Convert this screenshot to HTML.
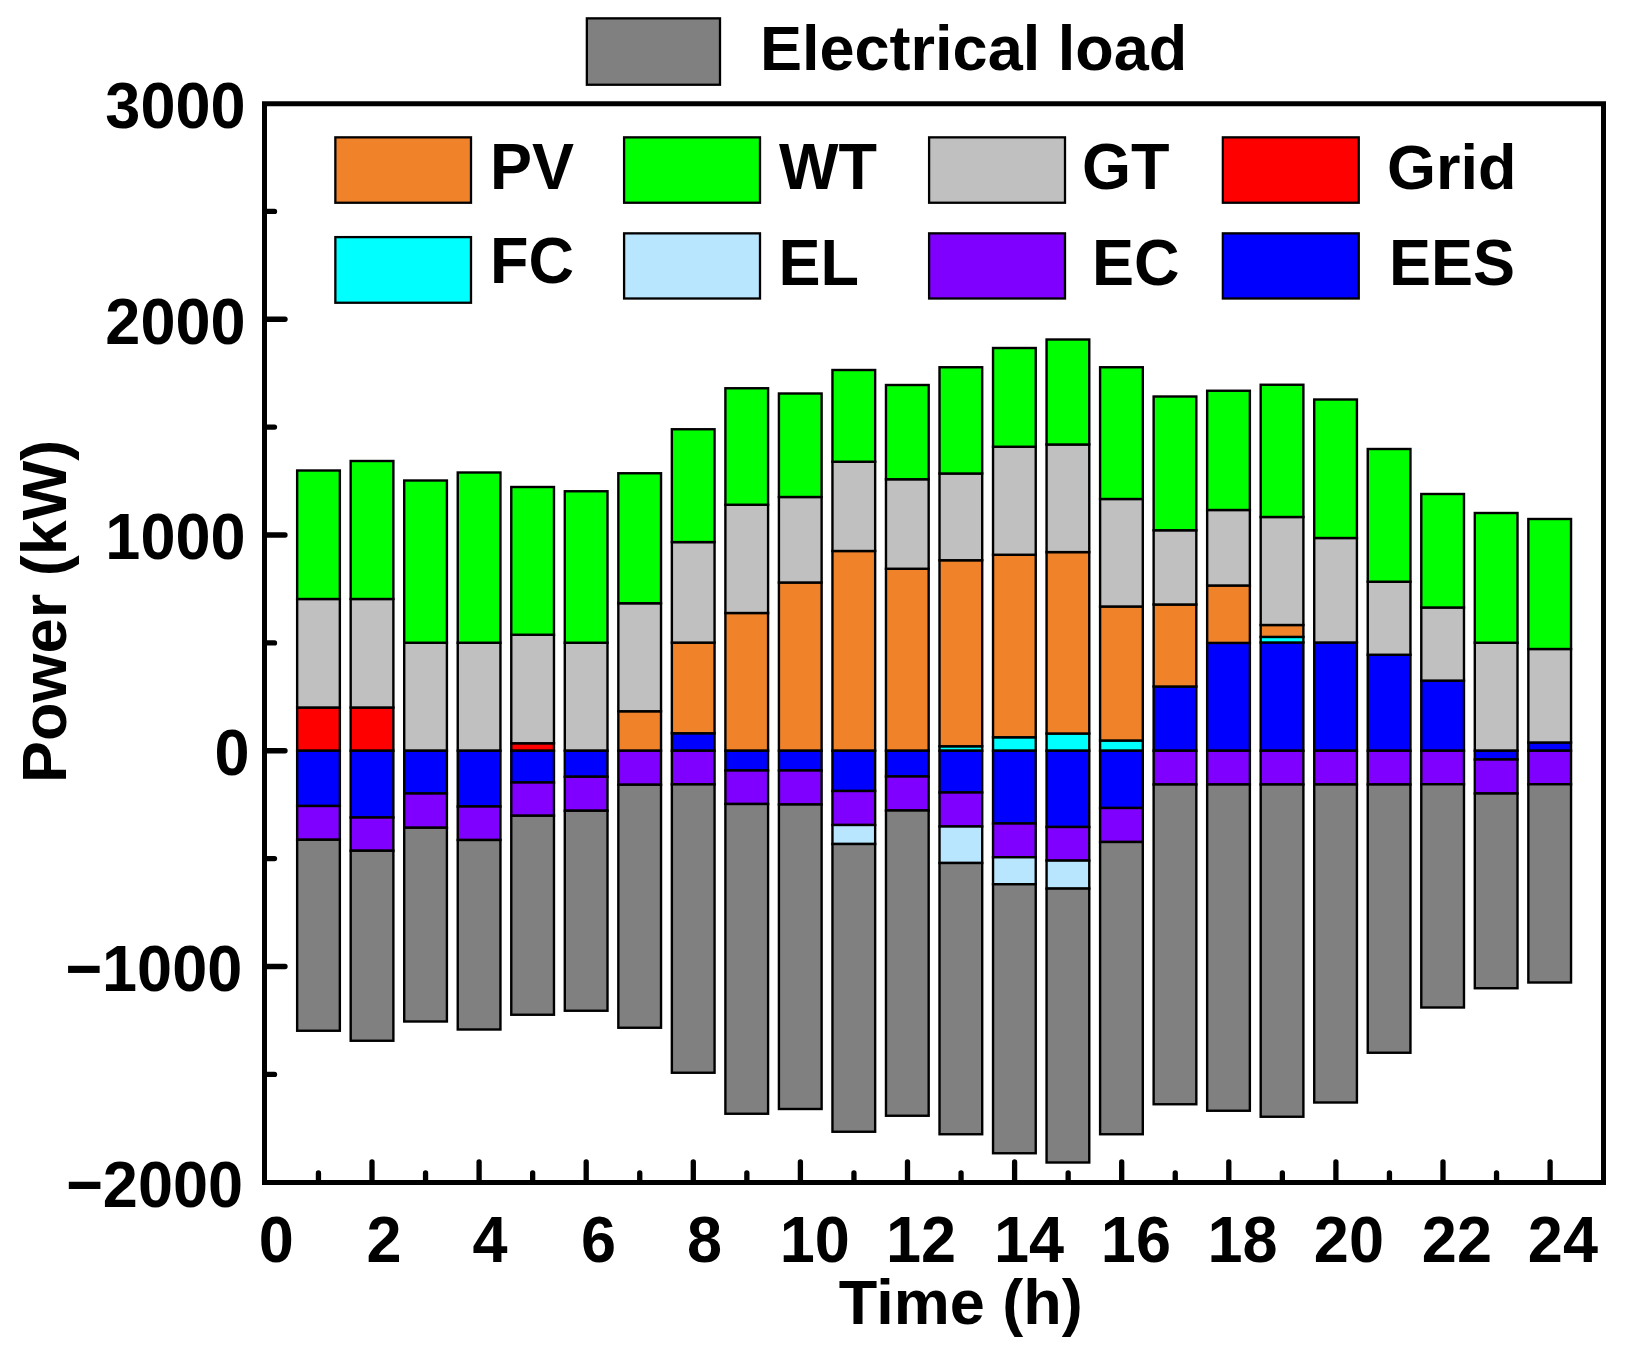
<!DOCTYPE html>
<html lang="en">
<head>
<meta charset="utf-8">
<title>Electrical power balance</title>
<style>
html,body{margin:0;padding:0;background:#fff;}
body{width:1628px;height:1353px;overflow:hidden;}
svg{display:block;}
svg text{font-family:"Liberation Sans",Arial,Helvetica,sans-serif;font-weight:bold;font-size:63px;fill:#000;}
</style>
</head>
<body>
<svg width="1628" height="1353" viewBox="0 0 1628 1353">
<rect x="0" y="0" width="1628" height="1353" fill="#fff"/>
<g stroke="#000" stroke-width="2.4" stroke-linejoin="miter">
<rect x="297.15" y="707.50" width="42.70" height="43.25" fill="#FF0000"/>
<rect x="297.15" y="599.00" width="42.70" height="108.50" fill="#C0C0C0"/>
<rect x="297.15" y="470.50" width="42.70" height="128.50" fill="#00FF00"/>
<rect x="297.15" y="750.75" width="42.70" height="55.25" fill="#0000FF"/>
<rect x="297.15" y="806.00" width="42.70" height="33.75" fill="#8000FF"/>
<rect x="297.15" y="839.75" width="42.70" height="191.00" fill="#808080"/>
<rect x="350.68" y="707.50" width="42.70" height="43.25" fill="#FF0000"/>
<rect x="350.68" y="599.00" width="42.70" height="108.50" fill="#C0C0C0"/>
<rect x="350.68" y="461.00" width="42.70" height="138.00" fill="#00FF00"/>
<rect x="350.68" y="750.75" width="42.70" height="66.75" fill="#0000FF"/>
<rect x="350.68" y="817.50" width="42.70" height="33.25" fill="#8000FF"/>
<rect x="350.68" y="850.75" width="42.70" height="190.00" fill="#808080"/>
<rect x="404.21" y="642.75" width="42.70" height="108.00" fill="#C0C0C0"/>
<rect x="404.21" y="480.50" width="42.70" height="162.25" fill="#00FF00"/>
<rect x="404.21" y="750.75" width="42.70" height="42.75" fill="#0000FF"/>
<rect x="404.21" y="793.50" width="42.70" height="34.25" fill="#8000FF"/>
<rect x="404.21" y="827.75" width="42.70" height="193.75" fill="#808080"/>
<rect x="457.74" y="642.75" width="42.70" height="108.00" fill="#C0C0C0"/>
<rect x="457.74" y="472.50" width="42.70" height="170.25" fill="#00FF00"/>
<rect x="457.74" y="750.75" width="42.70" height="55.75" fill="#0000FF"/>
<rect x="457.74" y="806.50" width="42.70" height="33.50" fill="#8000FF"/>
<rect x="457.74" y="840.00" width="42.70" height="189.50" fill="#808080"/>
<rect x="511.27" y="743.25" width="42.70" height="7.50" fill="#FF0000"/>
<rect x="511.27" y="634.75" width="42.70" height="108.50" fill="#C0C0C0"/>
<rect x="511.27" y="487.00" width="42.70" height="147.75" fill="#00FF00"/>
<rect x="511.27" y="750.75" width="42.70" height="31.75" fill="#0000FF"/>
<rect x="511.27" y="782.50" width="42.70" height="33.25" fill="#8000FF"/>
<rect x="511.27" y="815.75" width="42.70" height="199.00" fill="#808080"/>
<rect x="564.80" y="642.75" width="42.70" height="108.00" fill="#C0C0C0"/>
<rect x="564.80" y="491.25" width="42.70" height="151.50" fill="#00FF00"/>
<rect x="564.80" y="750.75" width="42.70" height="26.00" fill="#0000FF"/>
<rect x="564.80" y="776.75" width="42.70" height="34.00" fill="#8000FF"/>
<rect x="564.80" y="810.75" width="42.70" height="200.00" fill="#808080"/>
<rect x="618.33" y="711.25" width="42.70" height="39.50" fill="#F0832A"/>
<rect x="618.33" y="603.25" width="42.70" height="108.00" fill="#C0C0C0"/>
<rect x="618.33" y="473.25" width="42.70" height="130.00" fill="#00FF00"/>
<rect x="618.33" y="750.75" width="42.70" height="34.00" fill="#8000FF"/>
<rect x="618.33" y="784.75" width="42.70" height="243.00" fill="#808080"/>
<rect x="671.86" y="733.25" width="42.70" height="17.50" fill="#0000FF"/>
<rect x="671.86" y="642.60" width="42.70" height="90.65" fill="#F0832A"/>
<rect x="671.86" y="542.10" width="42.70" height="100.50" fill="#C0C0C0"/>
<rect x="671.86" y="429.25" width="42.70" height="112.85" fill="#00FF00"/>
<rect x="671.86" y="750.75" width="42.70" height="33.65" fill="#8000FF"/>
<rect x="671.86" y="784.40" width="42.70" height="288.35" fill="#808080"/>
<rect x="725.39" y="613.00" width="42.70" height="137.75" fill="#F0832A"/>
<rect x="725.39" y="504.75" width="42.70" height="108.25" fill="#C0C0C0"/>
<rect x="725.39" y="388.25" width="42.70" height="116.50" fill="#00FF00"/>
<rect x="725.39" y="750.75" width="42.70" height="19.75" fill="#0000FF"/>
<rect x="725.39" y="770.50" width="42.70" height="33.50" fill="#8000FF"/>
<rect x="725.39" y="804.00" width="42.70" height="309.75" fill="#808080"/>
<rect x="778.92" y="582.50" width="42.70" height="168.25" fill="#F0832A"/>
<rect x="778.92" y="497.00" width="42.70" height="85.50" fill="#C0C0C0"/>
<rect x="778.92" y="393.50" width="42.70" height="103.50" fill="#00FF00"/>
<rect x="778.92" y="750.75" width="42.70" height="19.75" fill="#0000FF"/>
<rect x="778.92" y="770.50" width="42.70" height="34.00" fill="#8000FF"/>
<rect x="778.92" y="804.50" width="42.70" height="304.50" fill="#808080"/>
<rect x="832.45" y="551.00" width="42.70" height="199.75" fill="#F0832A"/>
<rect x="832.45" y="461.75" width="42.70" height="89.25" fill="#C0C0C0"/>
<rect x="832.45" y="370.00" width="42.70" height="91.75" fill="#00FF00"/>
<rect x="832.45" y="750.75" width="42.70" height="40.25" fill="#0000FF"/>
<rect x="832.45" y="791.00" width="42.70" height="34.00" fill="#8000FF"/>
<rect x="832.45" y="825.00" width="42.70" height="19.00" fill="#B9E6FF"/>
<rect x="832.45" y="844.00" width="42.70" height="287.75" fill="#808080"/>
<rect x="885.98" y="568.75" width="42.70" height="182.00" fill="#F0832A"/>
<rect x="885.98" y="479.25" width="42.70" height="89.50" fill="#C0C0C0"/>
<rect x="885.98" y="385.00" width="42.70" height="94.25" fill="#00FF00"/>
<rect x="885.98" y="750.75" width="42.70" height="25.75" fill="#0000FF"/>
<rect x="885.98" y="776.50" width="42.70" height="34.00" fill="#8000FF"/>
<rect x="885.98" y="810.50" width="42.70" height="305.25" fill="#808080"/>
<rect x="939.51" y="746.25" width="42.70" height="4.50" fill="#00FFFF"/>
<rect x="939.51" y="560.25" width="42.70" height="186.00" fill="#F0832A"/>
<rect x="939.51" y="473.50" width="42.70" height="86.75" fill="#C0C0C0"/>
<rect x="939.51" y="367.25" width="42.70" height="106.25" fill="#00FF00"/>
<rect x="939.51" y="750.75" width="42.70" height="41.75" fill="#0000FF"/>
<rect x="939.51" y="792.50" width="42.70" height="34.00" fill="#8000FF"/>
<rect x="939.51" y="826.50" width="42.70" height="36.50" fill="#B9E6FF"/>
<rect x="939.51" y="863.00" width="42.70" height="271.25" fill="#808080"/>
<rect x="993.04" y="737.25" width="42.70" height="13.50" fill="#00FFFF"/>
<rect x="993.04" y="554.75" width="42.70" height="182.50" fill="#F0832A"/>
<rect x="993.04" y="446.75" width="42.70" height="108.00" fill="#C0C0C0"/>
<rect x="993.04" y="348.00" width="42.70" height="98.75" fill="#00FF00"/>
<rect x="993.04" y="750.75" width="42.70" height="72.75" fill="#0000FF"/>
<rect x="993.04" y="823.50" width="42.70" height="33.75" fill="#8000FF"/>
<rect x="993.04" y="857.25" width="42.70" height="27.00" fill="#B9E6FF"/>
<rect x="993.04" y="884.25" width="42.70" height="269.00" fill="#808080"/>
<rect x="1046.57" y="733.50" width="42.70" height="17.25" fill="#00FFFF"/>
<rect x="1046.57" y="552.10" width="42.70" height="181.40" fill="#F0832A"/>
<rect x="1046.57" y="444.50" width="42.70" height="107.60" fill="#C0C0C0"/>
<rect x="1046.57" y="339.50" width="42.70" height="105.00" fill="#00FF00"/>
<rect x="1046.57" y="750.75" width="42.70" height="76.25" fill="#0000FF"/>
<rect x="1046.57" y="827.00" width="42.70" height="33.60" fill="#8000FF"/>
<rect x="1046.57" y="860.60" width="42.70" height="28.00" fill="#B9E6FF"/>
<rect x="1046.57" y="888.60" width="42.70" height="273.90" fill="#808080"/>
<rect x="1100.10" y="740.50" width="42.70" height="10.25" fill="#00FFFF"/>
<rect x="1100.10" y="606.50" width="42.70" height="134.00" fill="#F0832A"/>
<rect x="1100.10" y="499.00" width="42.70" height="107.50" fill="#C0C0C0"/>
<rect x="1100.10" y="367.25" width="42.70" height="131.75" fill="#00FF00"/>
<rect x="1100.10" y="750.75" width="42.70" height="57.25" fill="#0000FF"/>
<rect x="1100.10" y="808.00" width="42.70" height="34.00" fill="#8000FF"/>
<rect x="1100.10" y="842.00" width="42.70" height="292.25" fill="#808080"/>
<rect x="1153.63" y="686.50" width="42.70" height="64.25" fill="#0000FF"/>
<rect x="1153.63" y="604.50" width="42.70" height="82.00" fill="#F0832A"/>
<rect x="1153.63" y="530.25" width="42.70" height="74.25" fill="#C0C0C0"/>
<rect x="1153.63" y="396.50" width="42.70" height="133.75" fill="#00FF00"/>
<rect x="1153.63" y="750.75" width="42.70" height="33.75" fill="#8000FF"/>
<rect x="1153.63" y="784.50" width="42.70" height="319.75" fill="#808080"/>
<rect x="1207.16" y="642.90" width="42.70" height="107.85" fill="#0000FF"/>
<rect x="1207.16" y="585.50" width="42.70" height="57.40" fill="#F0832A"/>
<rect x="1207.16" y="510.00" width="42.70" height="75.50" fill="#C0C0C0"/>
<rect x="1207.16" y="390.75" width="42.70" height="119.25" fill="#00FF00"/>
<rect x="1207.16" y="750.75" width="42.70" height="33.75" fill="#8000FF"/>
<rect x="1207.16" y="784.50" width="42.70" height="326.25" fill="#808080"/>
<rect x="1260.69" y="642.50" width="42.70" height="108.25" fill="#0000FF"/>
<rect x="1260.69" y="636.90" width="42.70" height="5.60" fill="#00FFFF"/>
<rect x="1260.69" y="625.00" width="42.70" height="11.90" fill="#F0832A"/>
<rect x="1260.69" y="517.00" width="42.70" height="108.00" fill="#C0C0C0"/>
<rect x="1260.69" y="384.75" width="42.70" height="132.25" fill="#00FF00"/>
<rect x="1260.69" y="750.75" width="42.70" height="33.75" fill="#8000FF"/>
<rect x="1260.69" y="784.50" width="42.70" height="332.25" fill="#808080"/>
<rect x="1314.22" y="642.50" width="42.70" height="108.25" fill="#0000FF"/>
<rect x="1314.22" y="538.00" width="42.70" height="104.50" fill="#C0C0C0"/>
<rect x="1314.22" y="399.50" width="42.70" height="138.50" fill="#00FF00"/>
<rect x="1314.22" y="750.75" width="42.70" height="33.75" fill="#8000FF"/>
<rect x="1314.22" y="784.50" width="42.70" height="318.00" fill="#808080"/>
<rect x="1367.75" y="654.75" width="42.70" height="96.00" fill="#0000FF"/>
<rect x="1367.75" y="581.75" width="42.70" height="73.00" fill="#C0C0C0"/>
<rect x="1367.75" y="449.00" width="42.70" height="132.75" fill="#00FF00"/>
<rect x="1367.75" y="750.75" width="42.70" height="33.75" fill="#8000FF"/>
<rect x="1367.75" y="784.50" width="42.70" height="268.25" fill="#808080"/>
<rect x="1421.28" y="680.60" width="42.70" height="70.15" fill="#0000FF"/>
<rect x="1421.28" y="607.50" width="42.70" height="73.10" fill="#C0C0C0"/>
<rect x="1421.28" y="494.00" width="42.70" height="113.50" fill="#00FF00"/>
<rect x="1421.28" y="750.75" width="42.70" height="33.50" fill="#8000FF"/>
<rect x="1421.28" y="784.25" width="42.70" height="223.25" fill="#808080"/>
<rect x="1474.81" y="642.75" width="42.70" height="108.00" fill="#C0C0C0"/>
<rect x="1474.81" y="513.00" width="42.70" height="129.75" fill="#00FF00"/>
<rect x="1474.81" y="750.75" width="42.70" height="8.75" fill="#0000FF"/>
<rect x="1474.81" y="759.50" width="42.70" height="34.00" fill="#8000FF"/>
<rect x="1474.81" y="793.50" width="42.70" height="194.75" fill="#808080"/>
<rect x="1528.34" y="742.50" width="42.70" height="8.25" fill="#0000FF"/>
<rect x="1528.34" y="649.00" width="42.70" height="93.50" fill="#C0C0C0"/>
<rect x="1528.34" y="519.00" width="42.70" height="130.00" fill="#00FF00"/>
<rect x="1528.34" y="750.75" width="42.70" height="33.50" fill="#8000FF"/>
<rect x="1528.34" y="784.25" width="42.70" height="198.25" fill="#808080"/>
</g>
<g stroke="#000" stroke-width="5.3" stroke-linecap="round" fill="none">
<line x1="318.45" y1="1181" x2="318.45" y2="1173.00"/>
<line x1="372.00" y1="1181" x2="372.00" y2="1162.00"/>
<line x1="425.55" y1="1181" x2="425.55" y2="1173.00"/>
<line x1="479.10" y1="1181" x2="479.10" y2="1162.00"/>
<line x1="532.65" y1="1181" x2="532.65" y2="1173.00"/>
<line x1="586.20" y1="1181" x2="586.20" y2="1162.00"/>
<line x1="639.75" y1="1181" x2="639.75" y2="1173.00"/>
<line x1="693.30" y1="1181" x2="693.30" y2="1162.00"/>
<line x1="746.85" y1="1181" x2="746.85" y2="1173.00"/>
<line x1="800.40" y1="1181" x2="800.40" y2="1162.00"/>
<line x1="853.95" y1="1181" x2="853.95" y2="1173.00"/>
<line x1="907.50" y1="1181" x2="907.50" y2="1162.00"/>
<line x1="961.05" y1="1181" x2="961.05" y2="1173.00"/>
<line x1="1014.60" y1="1181" x2="1014.60" y2="1162.00"/>
<line x1="1068.15" y1="1181" x2="1068.15" y2="1173.00"/>
<line x1="1121.70" y1="1181" x2="1121.70" y2="1162.00"/>
<line x1="1175.25" y1="1181" x2="1175.25" y2="1173.00"/>
<line x1="1228.80" y1="1181" x2="1228.80" y2="1162.00"/>
<line x1="1282.35" y1="1181" x2="1282.35" y2="1173.00"/>
<line x1="1335.90" y1="1181" x2="1335.90" y2="1162.00"/>
<line x1="1389.45" y1="1181" x2="1389.45" y2="1173.00"/>
<line x1="1443.00" y1="1181" x2="1443.00" y2="1162.00"/>
<line x1="1496.55" y1="1181" x2="1496.55" y2="1173.00"/>
<line x1="1550.10" y1="1181" x2="1550.10" y2="1162.00"/>
<line x1="266" y1="1074.38" x2="274.50" y2="1074.38"/>
<line x1="266" y1="966.50" x2="285.00" y2="966.50"/>
<line x1="266" y1="858.62" x2="274.50" y2="858.62"/>
<line x1="266" y1="750.75" x2="285.00" y2="750.75"/>
<line x1="266" y1="642.88" x2="274.50" y2="642.88"/>
<line x1="266" y1="535.00" x2="285.00" y2="535.00"/>
<line x1="266" y1="427.12" x2="274.50" y2="427.12"/>
<line x1="266" y1="319.25" x2="285.00" y2="319.25"/>
<line x1="266" y1="211.38" x2="274.50" y2="211.38"/>
</g>
<rect x="264.5" y="103.75" width="1339" height="1078.75" fill="none" stroke="#000" stroke-width="5"/>
<g stroke="#000" stroke-width="2.3">
<rect x="586.85" y="18.35" width="133.15" height="66.40" fill="#808080"/>
<rect x="335.35" y="137.35" width="135.65" height="65.40" fill="#F0832A"/>
<rect x="624.10" y="137.35" width="135.90" height="65.40" fill="#00FF00"/>
<rect x="929.10" y="137.35" width="135.90" height="65.40" fill="#C0C0C0"/>
<rect x="1222.85" y="137.35" width="135.90" height="65.40" fill="#FF0000"/>
<rect x="335.35" y="237.10" width="135.65" height="65.65" fill="#00FFFF"/>
<rect x="624.10" y="233.35" width="135.90" height="65.15" fill="#B9E6FF"/>
<rect x="929.10" y="233.35" width="135.90" height="65.15" fill="#8000FF"/>
<rect x="1222.85" y="233.35" width="135.90" height="65.15" fill="#0000FF"/>
</g>
<g>
<text id="t_el" transform="translate(760.00,70.00) scale(1,1)" text-anchor="start">Electrical load</text>
<text id="t_pv" transform="translate(490.00,189.25) scale(1,1.04)" text-anchor="start">PV</text>
<text id="t_wt" transform="translate(779.00,189.25) scale(1,1.04)" text-anchor="start">WT</text>
<text id="t_gt" transform="translate(1082.00,189.25) scale(1,1.04)" text-anchor="start">GT</text>
<text id="t_grid" transform="translate(1387.00,189.25) scale(1,1)" text-anchor="start">Grid</text>
<text id="t_fc" transform="translate(490.00,283.00) scale(1,1.04)" text-anchor="start">FC</text>
<text id="t_elz" transform="translate(778.50,285.00) scale(1,1.04)" text-anchor="start">EL</text>
<text id="t_ec" transform="translate(1092.00,285.00) scale(1,1.04)" text-anchor="start">EC</text>
<text id="t_ees" transform="translate(1389.00,285.00) scale(1,1.04)" text-anchor="start">EES</text>
<text id="ty3000" transform="translate(245.50,127.80) scale(1,1.04)" text-anchor="end">3000</text>
<text id="ty2000" transform="translate(245.50,343.50) scale(1,1.04)" text-anchor="end">2000</text>
<text id="ty1000" transform="translate(245.50,558.60) scale(1,1.04)" text-anchor="end">1000</text>
<text id="ty0" transform="translate(249.50,775.40) scale(1,1.04)" text-anchor="end">0</text>
<text id="ty-1000" transform="translate(242.20,990.60) scale(1,1.04)" text-anchor="end">−1000</text>
<text id="ty-2000" transform="translate(243.00,1206.60) scale(1,1.04)" text-anchor="end">−2000</text>
<text id="tx0" transform="translate(276.25,1262.00) scale(1,1.04)" text-anchor="middle">0</text>
<text id="tx2" transform="translate(384.00,1262.00) scale(1,1.04)" text-anchor="middle">2</text>
<text id="tx4" transform="translate(490.00,1262.00) scale(1,1.04)" text-anchor="middle">4</text>
<text id="tx6" transform="translate(598.60,1262.00) scale(1,1.04)" text-anchor="middle">6</text>
<text id="tx8" transform="translate(704.50,1262.00) scale(1,1.04)" text-anchor="middle">8</text>
<text id="tx10" transform="translate(814.80,1262.00) scale(1,1.04)" text-anchor="middle">10</text>
<text id="tx12" transform="translate(921.00,1262.00) scale(1,1.04)" text-anchor="middle">12</text>
<text id="tx14" transform="translate(1029.00,1262.00) scale(1,1.04)" text-anchor="middle">14</text>
<text id="tx16" transform="translate(1135.90,1262.00) scale(1,1.04)" text-anchor="middle">16</text>
<text id="tx18" transform="translate(1242.50,1262.00) scale(1,1.04)" text-anchor="middle">18</text>
<text id="tx20" transform="translate(1348.90,1262.00) scale(1,1.04)" text-anchor="middle">20</text>
<text id="tx22" transform="translate(1456.90,1262.00) scale(1,1.04)" text-anchor="middle">22</text>
<text id="tx24" transform="translate(1562.90,1262.00) scale(1,1.04)" text-anchor="middle">24</text>
<text id="t_time" transform="translate(960.75,1323.75) scale(1,1)" text-anchor="middle">Time (h)</text>
<text id="t_power" transform="translate(66.25,611.4) rotate(-90) scale(1,1)" text-anchor="middle">Power (kW)</text>
</g>
</svg>
</body>
</html>
